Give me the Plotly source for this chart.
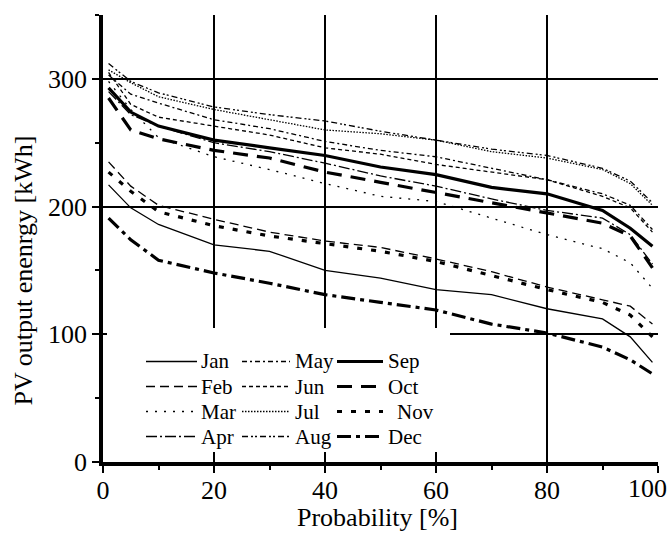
import plotly.graph_objects as go

# ---------------- data ----------------
prob = [1, 5, 10, 20, 30, 40, 50, 60, 70, 80, 90, 95, 99]

months = ["Jan", "Feb", "Mar", "Apr", "May", "Jun",
          "Jul", "Aug", "Sep", "Oct", "Nov", "Dec"]

jan = [217, 199, 186, 170, 165, 150, 144, 135, 131, 120, 112, 98, 78]
feb = [235, 216, 201, 190, 180, 173, 168, 159, 149, 137, 127, 122, 108]
mar = [298, 276, 254, 239, 229, 218, 208, 204, 191, 178, 167, 156, 136]
apr = [290, 272, 263, 250, 243, 234, 224, 216, 206, 197, 191, 178, 155]
may = [303, 288, 281, 268, 261, 251, 244, 239, 230, 221, 210, 201, 182]
jun = [305, 280, 270, 263, 256, 246, 241, 233, 227, 221, 208, 199, 180]
jul = [307, 297, 286, 276, 268, 260, 257, 252, 243, 238, 229, 218, 201]
aug = [312, 298, 289, 278, 272, 267, 259, 252, 245, 240, 230, 220, 203]
sep = [293, 274, 263, 252, 246, 240, 231, 225, 215, 210, 197, 183, 169]
oct_ = [285, 260, 253, 244, 238, 227, 219, 211, 203, 195, 187, 177, 152]
nov = [227, 212, 196, 185, 177, 171, 165, 157, 146, 135, 125, 115, 98]
dec = [191, 174, 158, 148, 140, 131, 125, 119, 108, 101, 90, 80, 69]

series = [jan, feb, mar, apr, may, jun, jul, aug, sep, oct_, nov, dec]

x_tickvals = [0, 20, 40, 60, 80, 100]
x_ticktext = ["0", "20", "40", "60", "80", "100"]

# ---------------- styles ----------------
thin, thick = 1.3, 3.2
styles = {
    "Jan": dict(width=thin, dash="solid"),
    "Feb": dict(width=thin, dash="9px,5px"),
    "Mar": dict(width=thin, dash="2px,7px"),
    "Apr": dict(width=thin, dash="11px,3px,2px,3px"),
    "May": dict(width=thin, dash="5px,3px,2px,3px"),
    "Jun": dict(width=thin, dash="4px,3px"),
    "Jul": dict(width=thin, dash="1.5px,1.5px"),
    "Aug": dict(width=thin, dash="6px,3px,2px,2px,2px,3px"),
    "Sep": dict(width=thick, dash="solid"),
    "Oct": dict(width=thick, dash="15px,9px"),
    "Nov": dict(width=thick, dash="5px,9px"),
    "Dec": dict(width=thick, dash="14px,5px,4px,5px"),
}

FONT = "Liberation Serif"

fig = go.Figure()
for name, vals in zip(months, series):
    st = styles[name]
    fig.add_trace(go.Scatter(
        x=prob, y=vals, mode="lines", name=name, showlegend=False,
        line=dict(color="black", width=st["width"], dash=st["dash"]),
    ))

# ---------------- layout geometry ----------------
W, H = 670, 534
ML, MR, MT, MB = 103, 12, 15, 72
PW, PH = W - ML - MR, H - MT - MB


def px(x):
    return (x - ML) / PW


def py(y):
    return (H - MB - y) / PH


shapes = []
annotations = []

# legend background (covers grid lines)
shapes.append(dict(type="rect", xref="paper", yref="paper",
                   x0=px(107), x1=px(450), y0=py(452), y1=py(328),
                   fillcolor="white", line=dict(width=0), layer="above"))

cols = [(146, 197, 199), (242, 290, 293), (337, 383, 386)]
rows = [361.5, 386.5, 411.5, 436.5]
for i, name in enumerate(months):
    c, r = divmod(i, 4)
    x0, x1, xt = cols[c]
    yy = rows[r]
    st = styles[name]
    shapes.append(dict(type="line", xref="paper", yref="paper",
                       x0=px(x0), x1=px(x1), y0=py(yy), y1=py(yy),
                       line=dict(color="black", width=st["width"], dash=st["dash"]),
                       layer="above"))
    if name == "Nov":
        xt += 9
    annotations.append(dict(text=name, xref="paper", yref="paper",
                            x=px(xt), y=py(yy), xanchor="left", yanchor="middle",
                            showarrow=False, font=dict(family=FONT, size=21, color="black")))

# axis titles
annotations.append(dict(text="PV output enenrgy [kWh]", xref="paper", yref="y",
                        x=px(23), y=150, textangle=-90, showarrow=False,
                        xanchor="center", yanchor="middle",
                        font=dict(family=FONT, size=26, color="black")))
annotations.append(dict(text="Probability [%]", xref="paper", yref="paper",
                        x=px(377), y=py(517), showarrow=False,
                        xanchor="center", yanchor="middle",
                        font=dict(family=FONT, size=26, color="black")))
# last x tick label, kept inside the page edge
annotations.append(dict(text=x_ticktext[-1], xref="paper", yref="paper",
                        x=px(669), y=py(488), showarrow=False,
                        xanchor="right", yanchor="middle",
                        font=dict(family=FONT, size=26, color="black")))

axis_common = dict(
    showline=True, linecolor="black", linewidth=3.5,
    showgrid=True, gridcolor="black", gridwidth=1.6,
    zeroline=False, ticks="outside", tickcolor="black", tickwidth=2, ticklen=7,
    tickfont=dict(family=FONT, size=26, color="black"),
    ticklabeloverflow="allow", automargin=False,
)

fig.update_layout(
    width=W, height=H,
    margin=dict(l=ML, r=MR, t=MT, b=MB, autoexpand=False),
    paper_bgcolor="white", plot_bgcolor="white",
    font=dict(family=FONT, color="black"),
    showlegend=False,
    xaxis=dict(range=[0, 100.0001], tickmode="array", tickvals=x_tickvals,
               ticktext=x_ticktext[:-1] + [""], ticklabelstandoff=-5,
               minor=dict(dtick=10, ticks="outside", ticklen=4, tickwidth=1.5,
                          tickcolor="black", showgrid=False),
               **axis_common),
    yaxis=dict(range=[0, 350], tick0=0, dtick=100,
               minor=dict(dtick=50, ticks="outside", ticklen=4, tickwidth=1.5,
                          tickcolor="black", showgrid=False),
               **axis_common),
    shapes=shapes,
    annotations=annotations,
)

fig.write_html("out.html", config={"displayModeBar": False},
               post_script="document.body.style.margin='0px';")
